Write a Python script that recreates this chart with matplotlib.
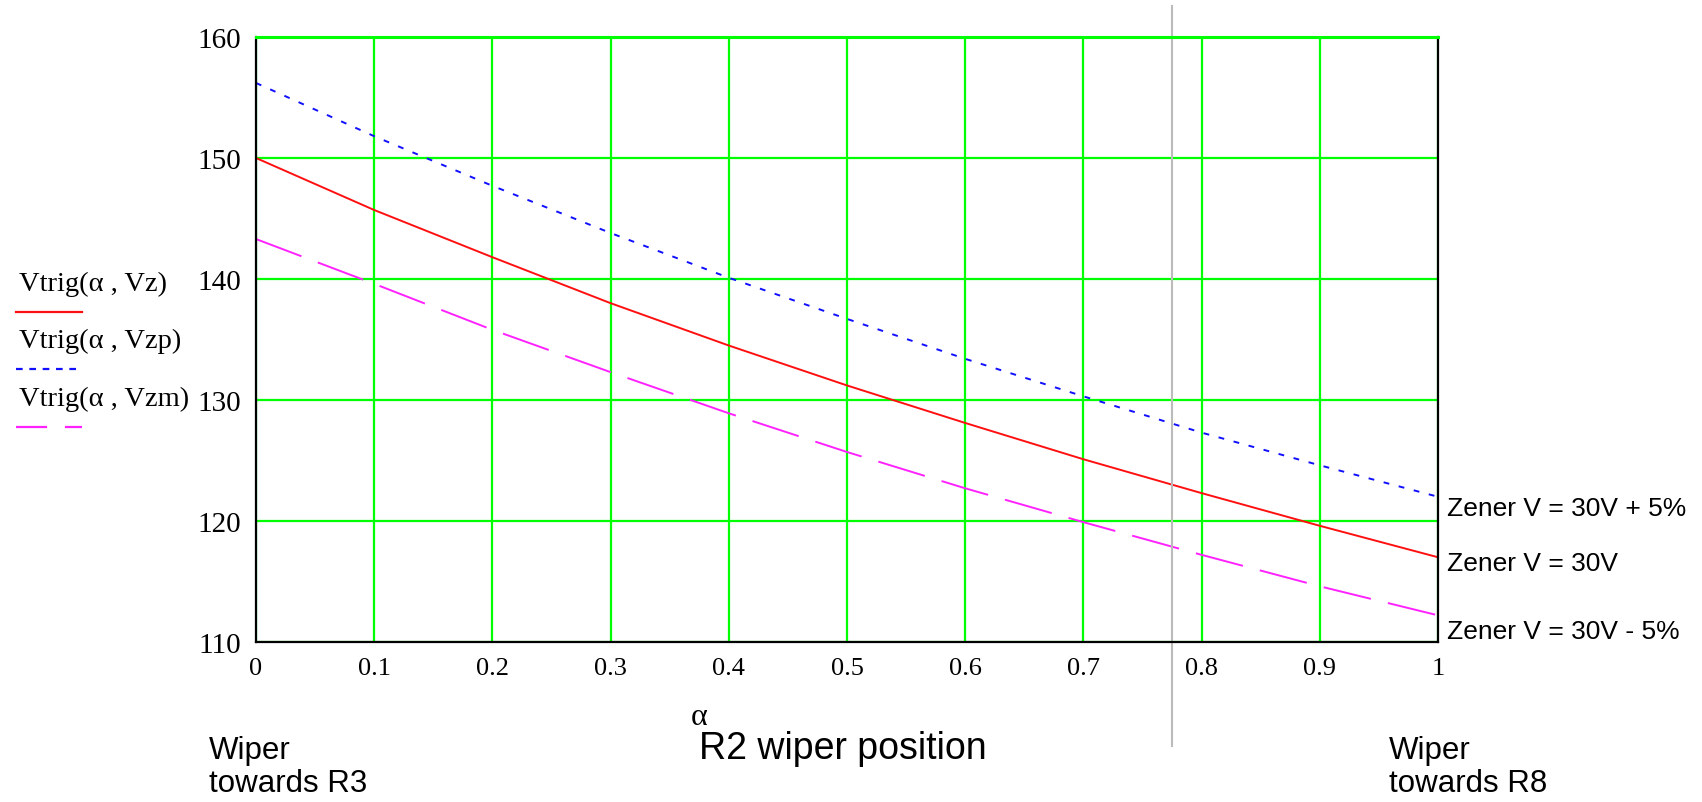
import matplotlib.pyplot as plt

# wiper position alpha and trigger voltages
alpha = [0.0, 0.1, 0.2, 0.3, 0.4, 0.5, 0.6, 0.7, 0.8, 0.9, 1.0]
vz = [150.0, 145.7, 141.8, 138.0, 134.5, 131.2, 128.1, 125.1, 122.3, 119.6, 117.0]
vzp = [156.2, 151.8, 147.7, 143.8, 140.1, 136.7, 133.4, 130.3, 127.3, 124.6, 122.0]
vzm = [143.3, 139.6, 135.8, 132.3, 128.9, 125.7, 122.7, 119.9, 117.2, 114.6, 112.2]

xticks = [0, 0.1, 0.2, 0.3, 0.4, 0.5, 0.6, 0.7, 0.8, 0.9, 1]
xlabels = ['0', '0.1', '0.2', '0.3', '0.4', '0.5', '0.6', '0.7', '0.8', '0.9', '1']
yticks = [110, 120, 130, 140, 150, 160]
legend_names = ['Vtrig(\u03b1 , Vz)', 'Vtrig(\u03b1 , Vzp)', 'Vtrig(\u03b1 , Vzm)']
end_notes = ['Zener V = 30V + 5%', 'Zener V = 30V', 'Zener V = 30V - 5%']
marker_x = 0.775

serif = 'Liberation Serif'
sans = 'Liberation Sans'

fig = plt.figure(figsize=(17.02, 8.03), dpi=100)
ax = fig.add_axes([0.1504, 0.1993, 0.6945, 0.7534])

ax.set_xlim(0, 1)
ax.set_ylim(110, 160)
ax.set_xticks(xticks)
ax.set_xticklabels(xlabels, family=serif, fontsize=19)
ax.set_yticks(yticks)
ax.set_yticklabels([str(v) for v in yticks], family=serif, fontsize=21)
ax.tick_params(length=0, pad=11)
ax.grid(True, color='#00ff00', linewidth=1.6)
ax.set_axisbelow(True)
for s in ax.spines.values():
	s.set_color('black')
	s.set_linewidth(1.6)
ax.spines['top'].set_color('#00ff00')
ax.spines['top'].set_linewidth(2.2)

ax.plot(alpha, vz, color='#ff1010', linewidth=1.4)
ax.plot(alpha, vzp, color='#1010ff', linewidth=1.4, dashes=(3, 5))
ax.plot(alpha, vzm, color='#ff22ff', linewidth=1.4, dashes=(25, 9))

# gray vertical marker running past the plot area
ax.axvline(marker_x, ymin=-0.172, ymax=1.052, color='#bbbbbb', linewidth=1.5, clip_on=False)

# Mathcad style legend on the left
styles = [dict(color='#ff1010'), dict(color='#1010ff', dashes=(3, 3)), dict(color='#ff22ff', dashes=(14, 8))]
ends_x = [0.048, 0.045, 0.048]
for i, name in enumerate(legend_names):
	y0 = 0.646 - i * 0.0718
	fig.text(0.011, y0, name, family=serif, fontsize=20.5, va='center')
	fig.add_artist(plt.Line2D([0.0095, ends_x[i]], [y0 - 0.0355, y0 - 0.0355],
		transform=fig.transFigure, linewidth=1.6, **styles[i]))

# notes at the right end of each curve
ends = [vzp[-1], vz[-1], vzm[-1]]
offs = [-0.95, -0.5, -1.27]
for note, yv, off in zip(end_notes, ends, offs):
	ax.text(1.008, yv + off, note, transform=ax.get_yaxis_transform(), family=sans,
		fontsize=19, va='center', ha='left')

fig.text(0.4105, 0.106, '\u03b1', family=serif, fontsize=23, ha='center', va='center')
fig.text(0.495, 0.067, 'R2 wiper position', family=sans, fontsize=27, ha='center', va='center')
fig.text(0.123, 0.044, 'Wiper\ntowards R3', family=sans, fontsize=22.5, ha='left', va='center', linespacing=1.15)
fig.text(0.816, 0.044, 'Wiper\ntowards R8', family=sans, fontsize=22.5, ha='left', va='center', linespacing=1.15)

fig.savefig('out.png', dpi=100)
